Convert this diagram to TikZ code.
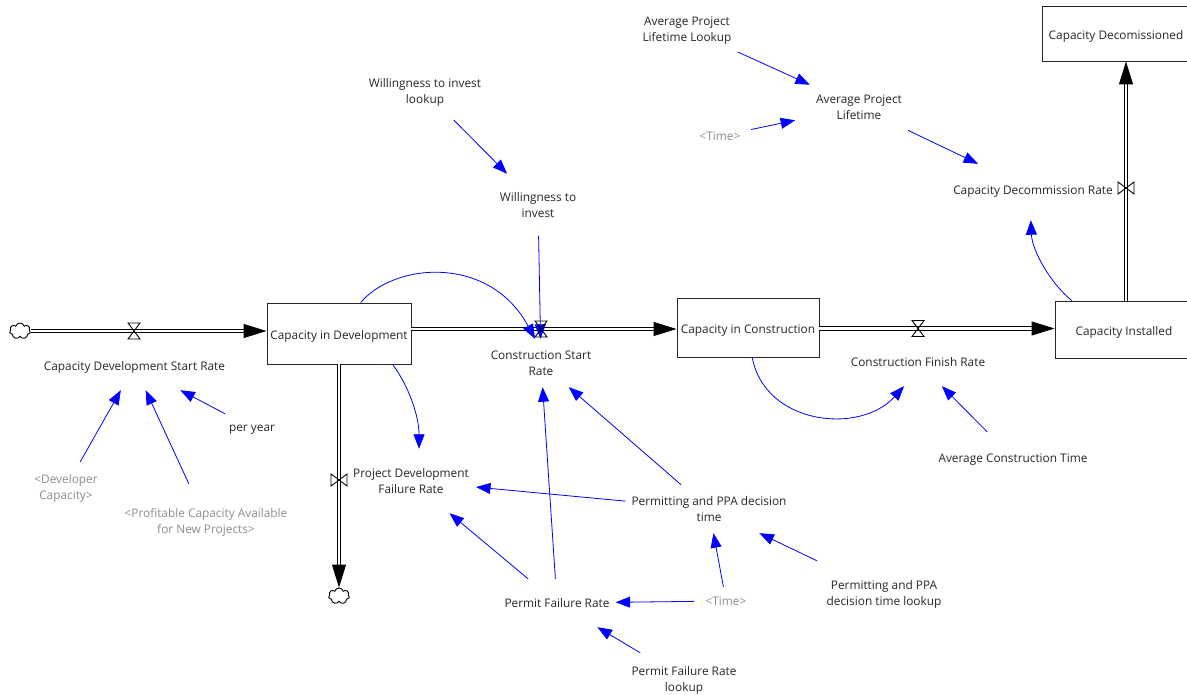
\documentclass[tikz,border=0pt]{standalone}
\usepackage{fontspec}
\setmainfont{Open Sans}
\usetikzlibrary{arrows.meta,shapes.symbols}
\definecolor{ghost}{HTML}{8C8C8C}
\definecolor{ink}{HTML}{262626}
\tikzset{
        var/.style={align=center,text=ink,inner xsep=6pt,inner ysep=0pt,minimum height=48pt,text depth=0pt,
                font=\fontsize{11.85pt}{16pt}\selectfont},
        shadow/.style={var,text=ghost},
        stock/.style={draw=black!85,line width=0.9pt,text=ink,inner sep=0pt,text depth=0pt,text height=12pt,
                font=\fontsize{11.85pt}{16pt}\selectfont},
        link/.style={draw=blue,line width=0.8pt,-{Triangle[length=14.5pt,width=11pt]}},
        pipe/.style={double,double distance=2.8pt,line width=0.9pt,-{Triangle[length=23pt,width=14pt]}},
        source/.style={cloud,cloud puffs=7,draw,line width=0.9pt,inner sep=0pt,minimum width=21pt,minimum height=16pt,aspect=1.3},
        hourglass/.style={minimum width=14pt,minimum height=18pt,inner sep=0pt,
                path picture={\draw[line width=0.9pt] ([shift={(1pt,1pt)}]path picture bounding box.south west) -- ([shift={(-1pt,1pt)}]path picture bounding box.south east) -- ([shift={(1pt,-1pt)}]path picture bounding box.north west) -- ([shift={(-1pt,-1pt)}]path picture bounding box.north east) -- cycle;}},
        bowtie/.style={minimum width=18pt,minimum height=14pt,inner sep=0pt,
                path picture={\draw[line width=0.9pt] ([shift={(1pt,1pt)}]path picture bounding box.south west) -- ([shift={(1pt,-1pt)}]path picture bounding box.north west) -- ([shift={(-1pt,1pt)}]path picture bounding box.south east) -- ([shift={(-1pt,-1pt)}]path picture bounding box.north east) -- cycle;}}
}
\begin{document}
\begin{tikzpicture}[x=1pt,y=-1pt]
        \useasboundingbox (0,0) rectangle (1187,695);
        \clip (0,0) rectangle (1187,695);

        \node [stock,minimum width=144pt,minimum height=61pt] (devstock) at (339,333.5) {Capacity in Development};
        \node [stock,minimum width=142pt,minimum height=59pt] (buildstock) at (748,327.5) {Capacity in Construction};
        \node [stock,minimum width=138pt,minimum height=57pt] (livestock) at (1124,329.5) {Capacity Installed};
        \node [stock,minimum width=148pt,minimum height=55pt] (deadstock) at (1116,33.5) {Capacity Decomissioned};

        \node [source] (startcloud) at (20,331) {};
        \node [source] (failcloud) at (339,596) {};
        \coordinate (buildline) at (541,329);
        \coordinate (finishline) at (918,328.5);
        \coordinate (decomline) at (1126,188);

        \node [var] (startrate) at (134.5,366) {Capacity Development Start Rate};
        \node [var,minimum height=28pt] (peryear) at (252,428) {per year};
        \node [shadow,minimum height=50pt] (devcap) at (66,487) {<Developer\\Capacity>};
        \node [shadow,minimum height=74pt] (profitcap) at (206,521) {<Profitable Capacity Available\\for New Projects>};
        \node [var,minimum height=64pt,inner xsep=7pt] (failrate) at (411,481) {Project Development\\Failure Rate};
        \node [var] (permitrate) at (557,603) {Permit Failure Rate};
        \node [var,minimum height=52pt] (permitlookup) at (684,679) {Permit Failure Rate\\lookup};
        \node [shadow,minimum width=64pt,minimum height=28pt] (timelow) at (726,601) {<Time>};
        \node [var] (ppatime) at (709,509) {Permitting and PPA decision\\time};
        \node [var,minimum width=140pt,minimum height=64pt] (ppalookup) at (884,593) {Permitting and PPA\\decision time lookup};
        \node [var] (buildrate) at (541,363) {Construction Start\\Rate};
        \node [var,minimum height=62pt] (invest) at (538,205) {Willingness to\\invest};
        \node [var,minimum height=58pt] (investlookup) at (425,91) {Willingness to invest\\lookup};
        \node [var] (finishrate) at (918,362) {Construction Finish Rate};
        \node [var,minimum height=52pt] (buildtime) at (1013,458) {Average Construction Time};
        \node [var,minimum height=54pt] (lifetime) at (859,107) {Average Project\\Lifetime};
        \node [var] (lifelookup) at (687,29) {Average Project\\Lifetime Lookup};
        \node [shadow,minimum width=62pt,minimum height=28pt] (timetop) at (720,136) {<Time>};
        \node [var,minimum height=52pt] (decomrate) at (1033,190) {Capacity Decommission Rate};

        \draw [pipe] (startcloud.east) -- (startcloud.east -| devstock.west);
        \draw [pipe] (devstock.east |- buildline) -- (buildstock.west |- buildline);
        \draw [pipe] (buildstock.east |- finishline) -- (livestock.west |- finishline);
        \draw [pipe] (devstock.south) -- (failcloud.north);
        \draw [pipe] (decomline |- livestock.north) -- (decomline |- deadstock.south);

        \foreach \from/\to in {devcap/startrate,profitcap/startrate,peryear/startrate,
                ppatime/failrate,permitrate/failrate,permitrate/buildrate,ppatime/buildrate,
                timelow/permitrate,timelow/ppatime,ppalookup/ppatime,permitlookup/permitrate,
                investlookup/invest,invest/buildrate,buildtime/finishrate,
                lifelookup/lifetime,lifetime/decomrate}
        \draw [link] (\from) -- (\to);

        \draw [link,shorten >=15pt] (timetop) -- (lifetime);
        \draw [link] (devstock.55) .. controls (395,262) and (490,255) .. (buildrate.104);
        \draw [link] (devstock.-30) .. controls (408,385) and (419,415) .. (failrate.76);
        \draw [link] (buildstock.-82) .. controls (765,425) and (860,435) .. (finishrate.-120);
        \draw [link,shorten >=4pt] (livestock.151) .. controls (1050,283) and (1032,250) .. (decomrate.-95);

        \node [hourglass] (startvalve) at (134,331) {};
        \node [hourglass] (buildvalve) at (buildline) {};
        \node [hourglass] (finishvalve) at (finishline) {};
        \node [bowtie] (failvalve) at (339,480) {};
        \node [bowtie] (decomvalve) at (decomline) {};
\end{tikzpicture}
\end{document}
